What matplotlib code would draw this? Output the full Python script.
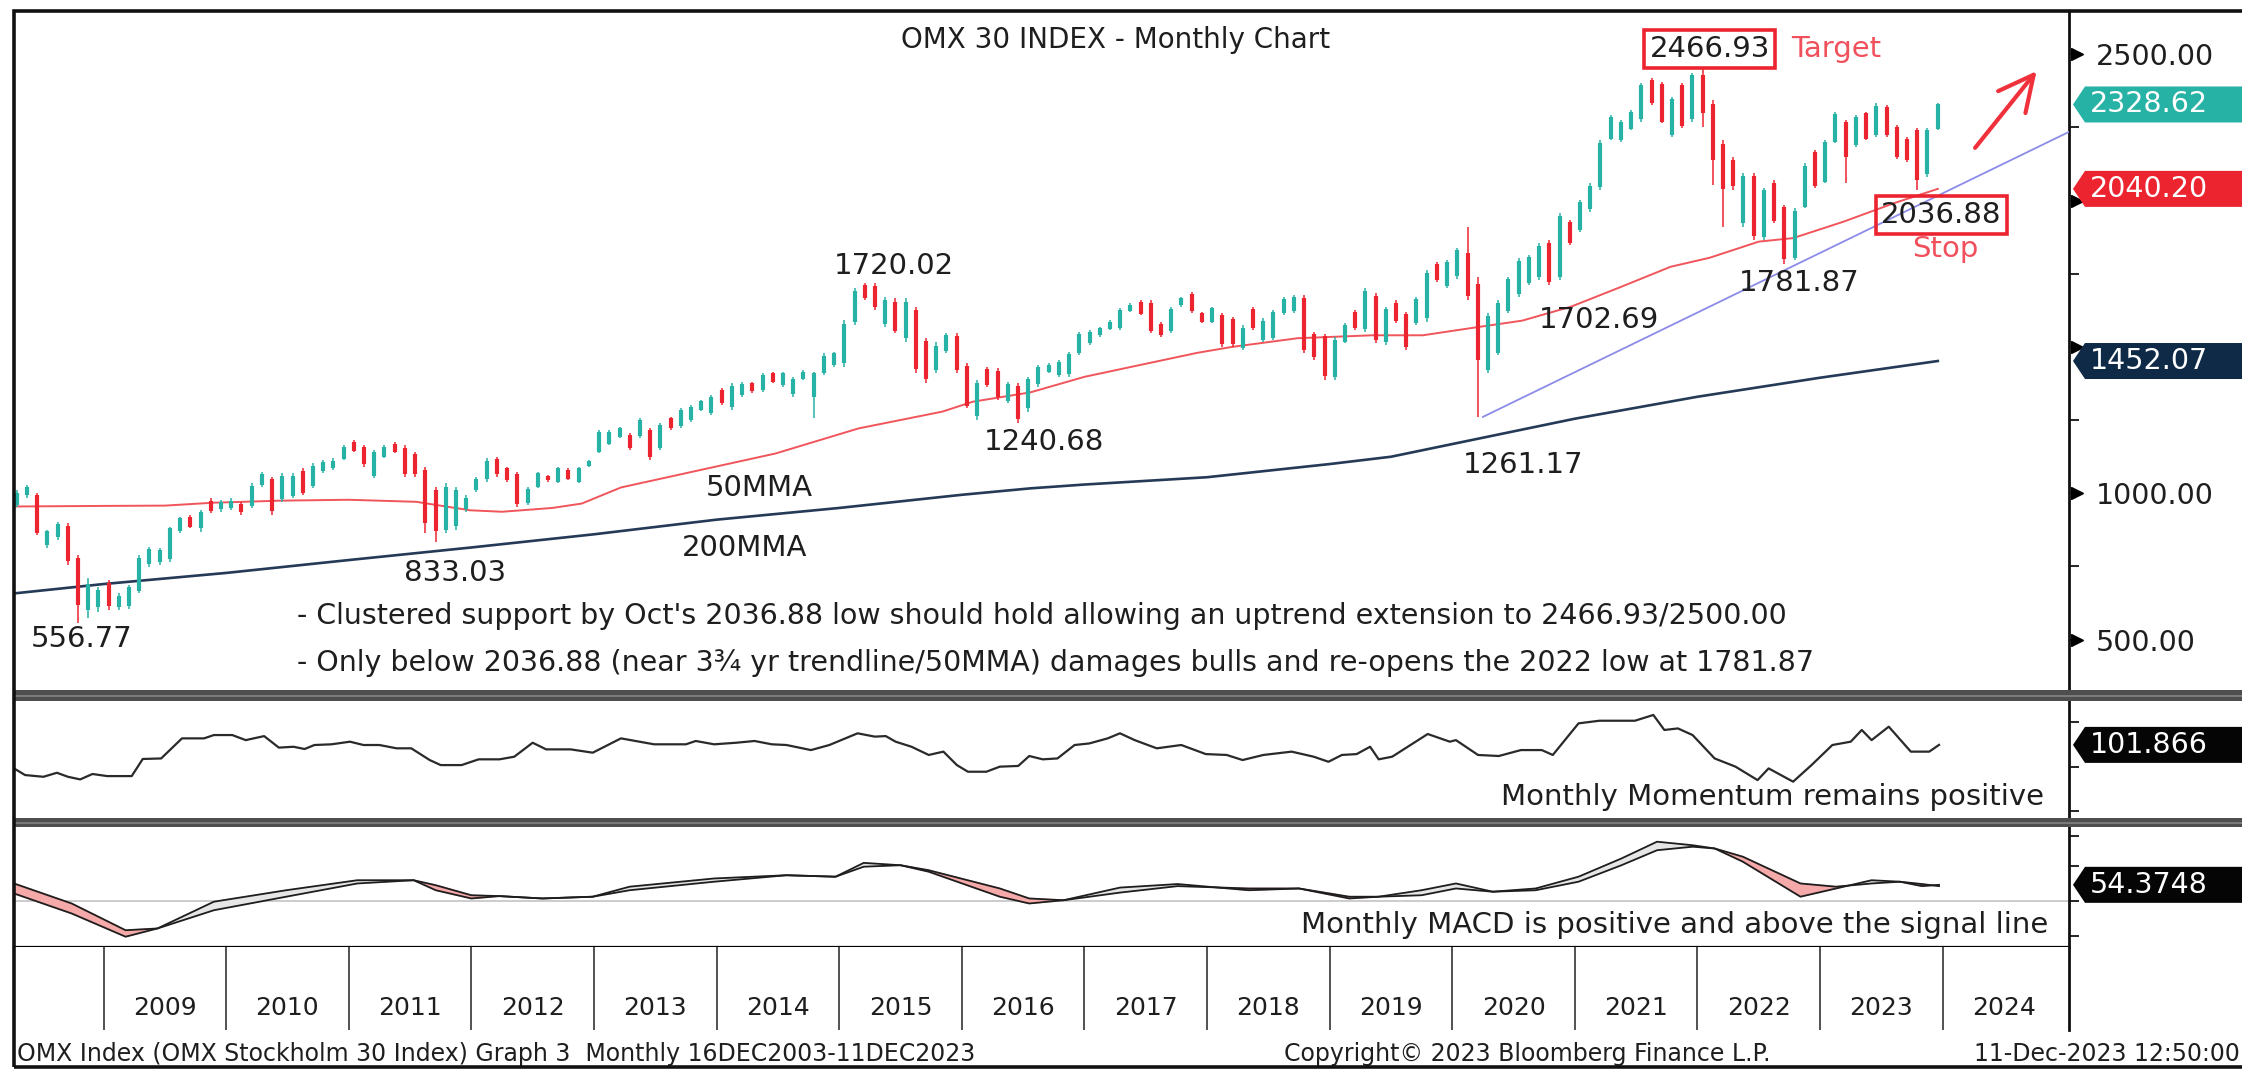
import numpy as np
import matplotlib
matplotlib.use("Agg")
import matplotlib.pyplot as plt
from matplotlib.patches import Rectangle, Polygon
from matplotlib.transforms import IdentityTransform

# ------------------------ monthly OHLC, Apr 2008 .. Dec 2023 ------------------------
opens = [
    960, 995, 995, 825, 850, 890, 780, 600, 610,                        # 2008 Apr-Dec
    695, 610, 615, 665, 760, 765, 775, 870, 920, 880, 975, 945,         # 2009
    950, 965, 955, 1030, 1050, 980, 990, 1075, 1025, 1075, 1085, 1118,  # 2010
    1175, 1158, 1060, 1125, 1170, 1155, 1135, 1080, 1010, 875, 890, 945,  # 2011
    1012, 1048, 1118, 1085, 1065, 968, 1022, 1058, 1040, 1080, 1040, 1094,  # 2012
    1142, 1170, 1192, 1198, 1195, 1215, 1155, 1256, 1230, 1252, 1285, 1275,  # 2013
    1352, 1295, 1336, 1376, 1353, 1410, 1370, 1338, 1392, 1330, 1410, 1440,  # 2014
    1445, 1585, 1712, 1710, 1580, 1655, 1530, 1628, 1520, 1420, 1485, 1538,  # 2015
    1435, 1265, 1425, 1418, 1315, 1368, 1290, 1372, 1415, 1405, 1408, 1480,  # 2016
    1512, 1540, 1562, 1565, 1624, 1655, 1652, 1580, 1555, 1642, 1682, 1615,  # 2017
    1586, 1608, 1595, 1498, 1630, 1525, 1532, 1615, 1622, 1668, 1545, 1538,  # 2018
    1398, 1518, 1620, 1560, 1675, 1518, 1652, 1612, 1582, 1600, 1785, 1710,  # 2019
    1742, 1820, 1715, 1420, 1480, 1622, 1680, 1720, 1738, 1855, 1740, 1928,  # 2020
    1900, 1970, 2045, 2212, 2208, 2246, 2278, 2412, 2398, 2226, 2395, 2278,  # 2021
    2430, 2330, 2195, 2140, 1925, 2085, 1875, 2060, 1978, 1805, 1980, 2165,  # 2022
    2065, 2202, 2268, 2190, 2298, 2224, 2320, 2252, 2212, 2240, 2090, 2245,  # 2023
]
highs = [
    1011, 1030, 1001, 875, 903, 898, 789, 710, 681,
    704, 658, 687, 789, 818, 812, 886, 920, 926, 943, 983, 977,
    983, 971, 1034, 1074, 1057, 1068, 1068, 1085, 1102, 1114, 1119, 1165,
    1182, 1165, 1148, 1165, 1176, 1165, 1142, 1091, 1023, 1034, 1023, 994,
    1057, 1119, 1125, 1091, 1074, 1023, 1074, 1062, 1091, 1085, 1091, 1114,
    1216, 1216, 1228, 1205, 1256, 1222, 1239, 1262, 1290, 1302, 1319, 1336,
    1359, 1376, 1381, 1381, 1410, 1416, 1416, 1398, 1421, 1416, 1478, 1484,
    1592, 1700, 1720.02, 1718, 1672, 1666, 1666, 1638, 1530, 1518, 1547, 1547,
    1444, 1387, 1433, 1427, 1381, 1376, 1398, 1438, 1444, 1455, 1484, 1552,
    1558, 1569, 1592, 1632, 1649, 1660, 1660, 1586, 1638, 1672, 1689, 1620,
    1638, 1615, 1603, 1575, 1638, 1598, 1626, 1672, 1677, 1677, 1552, 1546,
    1535, 1581, 1626, 1700, 1683, 1638, 1660, 1621, 1672, 1763, 1791, 1797,
    1837, 1911, 1740, 1615, 1660, 1740, 1803, 1814, 1854, 1865, 1957, 1934,
    2002, 2059, 2207, 2292, 2275, 2310, 2401, 2418, 2406, 2355, 2401, 2435,
    2466.93, 2344, 2207, 2150, 2093, 2093, 2042, 2070, 1985, 1974, 2127, 2173,
    2207, 2304, 2275, 2293, 2304, 2332, 2327, 2258, 2218, 2247, 2247, 2332,
]
lows = [
    953, 985, 858, 813, 840, 755, 556.77, 573, 595,
    601, 601, 605, 658, 749, 755, 766, 863, 880, 869, 932, 937,
    943, 926, 949, 1023, 926, 971, 983, 994, 1017, 1068, 1080, 1114,
    1140, 1091, 1051, 1119, 1137, 1057, 1057, 863, 833.03, 863, 875, 937,
    1006, 1040, 1057, 1040, 954, 960, 1017, 1040, 1034, 1045, 1034, 1091,
    1137, 1165, 1188, 1148, 1188, 1114, 1148, 1216, 1222, 1245, 1280, 1267,
    1302, 1285, 1330, 1342, 1347, 1376, 1364, 1330, 1387, 1256, 1404, 1433,
    1433, 1575, 1660, 1626, 1569, 1547, 1518, 1410, 1376, 1410, 1478, 1410,
    1290, 1250, 1364, 1319, 1307, 1240.68, 1279, 1364, 1410, 1398, 1398, 1472,
    1507, 1535, 1558, 1558, 1620, 1609, 1547, 1535, 1547, 1638, 1615, 1581,
    1581, 1501, 1501, 1490, 1558, 1518, 1524, 1609, 1615, 1478, 1455, 1387,
    1387, 1512, 1558, 1552, 1512, 1507, 1581, 1490, 1575, 1586, 1723, 1700,
    1734, 1660, 1261.17, 1410, 1472, 1615, 1672, 1712, 1729, 1712, 1729, 1848,
    1894, 1962, 2036, 2207, 2201, 2241, 2270, 2327, 2264, 2218, 2247, 2270,
    2253, 2053, 1911, 2036, 1911, 1865, 1865, 1922, 1781.87, 1797, 1974, 2042,
    2059, 2196, 2059, 2184, 2207, 2218, 2218, 2144, 2133, 2036.88, 2082, 2241,
]
closes = [
    1000, 1020, 865, 870, 895, 770, 620, 690, 670,
    615, 650, 680, 780, 810, 805, 880, 915, 885, 935, 940, 970,
    975, 935, 1025, 1065, 940, 1060, 1060, 1000, 1095, 1108, 1112, 1158,
    1145, 1100, 1140, 1158, 1142, 1065, 1065, 900, 870, 1020, 1010, 985,
    1050, 1110, 1065, 1045, 965, 1015, 1068, 1044, 1085, 1050, 1085, 1110,
    1208, 1210, 1222, 1155, 1250, 1125, 1232, 1222, 1284, 1296, 1314, 1330,
    1308, 1368, 1375, 1348, 1404, 1382, 1410, 1392, 1416, 1410, 1470, 1478,
    1580, 1690, 1668, 1635, 1662, 1555, 1655, 1425, 1390, 1505, 1540, 1420,
    1300, 1378, 1370, 1330, 1372, 1255, 1390, 1430, 1438, 1448, 1476, 1545,
    1552, 1564, 1587, 1625, 1645, 1614, 1556, 1540, 1630, 1668, 1622, 1586,
    1632, 1510, 1510, 1566, 1565, 1590, 1618, 1665, 1670, 1490, 1465, 1400,
    1525, 1575, 1565, 1690, 1525, 1630, 1588, 1500, 1664, 1752, 1728, 1790,
    1830, 1675, 1455, 1605, 1650, 1732, 1795, 1806, 1846, 1722, 1948, 1855,
    1994, 2050, 2198, 2285, 2268, 2304, 2394, 2332, 2270, 2348, 2254, 2428,
    2300, 2140, 2040, 2050, 2085, 1880, 2035, 1930, 1800, 1966, 2120, 2050,
    2200, 2296, 2150, 2286, 2212, 2325, 2225, 2150, 2140, 2070, 2240, 2328.62,
]

# moving averages (decimal years)
ma50_x = [2008.27, 2009.0, 2009.5, 2009.9, 2010.45, 2011.0, 2011.55, 2011.99, 2012.25, 2012.66,
          2012.9, 2013.22, 2013.98, 2014.48, 2015.16, 2015.84, 2016.09, 2016.56, 2017.0, 2017.92,
          2018.2, 2018.74, 2019.35, 2019.76, 2020.16, 2020.57, 2020.97, 2021.38, 2021.78, 2022.1,
          2022.5, 2022.78, 2023.19, 2023.6, 2023.96]
ma50_y = [955, 957, 958, 968, 975, 978, 971, 942, 937, 950,
          965, 1020, 1090, 1136, 1222, 1279, 1313, 1345, 1398, 1480,
          1500, 1530, 1540, 1540, 1565, 1590, 1638, 1706, 1774, 1805,
          1860, 1872, 1928, 1991, 2040.20]
ma200_x = [2008.27, 2009.0, 2010.0, 2011.0, 2012.0, 2013.0, 2014.0, 2015.0, 2016.0, 2016.56,
           2017.0, 2018.0, 2019.0, 2019.5, 2020.25, 2021.0, 2022.0, 2023.0, 2023.96]
ma200_y = [658, 690, 728, 772, 815, 860, 910, 950, 995, 1017,
           1030, 1055, 1100, 1125, 1190, 1255, 1330, 1395, 1452.07]
trend_x = [2020.25, 2025.03]
trend_y = [1261.17, 2235]

# monthly momentum
mom_x = [2008.27, 2008.36, 2008.51, 2008.62, 2008.71, 2008.81, 2008.91, 2009.03, 2009.23, 2009.32,
         2009.47, 2009.64, 2009.82, 2009.90, 2010.05, 2010.16, 2010.31, 2010.43, 2010.55, 2010.64,
         2010.72, 2010.86, 2011.01, 2011.12, 2011.25, 2011.39, 2011.51, 2011.66, 2011.75, 2011.92,
         2012.06, 2012.23, 2012.35, 2012.50, 2012.61, 2012.81, 2012.99, 2013.22, 2013.49, 2013.75,
         2013.83, 2013.98, 2014.16, 2014.31, 2014.45, 2014.57, 2014.77, 2014.92, 2015.15, 2015.29,
         2015.38, 2015.46, 2015.59, 2015.73, 2015.85, 2015.96, 2016.05, 2016.20, 2016.31, 2016.46,
         2016.55, 2016.66, 2016.78, 2016.92, 2017.04, 2017.19, 2017.29,
         2017.41, 2017.59, 2017.79, 2017.99, 2018.16, 2018.29, 2018.46, 2018.69, 2018.87, 2018.99,
         2019.10, 2019.22, 2019.33, 2019.40, 2019.51, 2019.80, 2019.98, 2020.03, 2020.21, 2020.38,
         2020.56, 2020.73, 2020.82, 2021.03, 2021.20, 2021.49, 2021.64, 2021.73, 2021.84, 2021.96,
         2022.14, 2022.31, 2022.49, 2022.58, 2022.78, 2022.93, 2023.10, 2023.25, 2023.34, 2023.42,
         2023.56, 2023.74, 2023.89, 2023.97]
mom_y = [88.4, 84.6, 83.6, 85.9, 83.6, 82.1, 85.2, 84.0, 84.0, 93.8,
         94.1, 105.6, 105.6, 107.5, 107.5, 104.6, 106.9, 100.3, 100.8, 99.5,
         101.8, 102.2, 103.7, 101.8, 101.8, 99.9, 99.9, 93.2, 90.3, 90.3,
         93.6, 93.6, 95.1, 103.1, 99.3, 99.3, 97.4, 105.6, 102.2, 102.2,
         104.1, 102.2, 103.1, 104.1, 102.2, 101.8, 98.9, 101.8, 108.5, 106.6,
         106.9, 103.7, 100.8, 96.1, 98.0, 90.3, 86.5, 86.5, 89.4, 89.8,
         95.5, 93.6, 94.1, 101.8, 102.7, 105.6, 108.5,
         104.6, 99.9, 101.8, 96.6, 96.1, 93.2, 96.1, 98.0, 95.1, 92.2,
         96.1, 96.6, 100.8, 93.6, 95.1, 108.1, 103.7, 104.6, 96.1, 95.5,
         98.9, 98.9, 96.1, 114.2, 115.7, 115.7, 119.0, 110.4, 111.3, 107.5,
         94.1, 89.4, 81.7, 88.4, 80.8, 90.3, 101.8, 103.7, 110.4, 104.6,
         112.3, 98.0, 98.0, 101.866]

# monthly MACD and signal
macd_x = [2008.27, 2008.74, 2009.18, 2009.44, 2009.90, 2010.49, 2011.07, 2011.53, 2011.71, 2012.0,
          2012.23, 2012.58, 2012.99, 2013.29, 2013.98, 2014.57, 2014.97, 2015.20, 2015.50, 2015.73,
          2016.31, 2016.55, 2016.83, 2017.29, 2017.76, 2018.34, 2018.75, 2019.16, 2019.40, 2019.75,
          2020.03, 2020.33, 2020.68, 2021.03, 2021.38, 2021.67, 2021.96, 2022.14, 2022.37, 2022.84,
          2023.13, 2023.42, 2023.65, 2023.83, 2023.97]
macd = [25, -43, -122, -94, -3, 36, 70, 70, 36, 8,
        16, 8, 14, 48, 76, 87, 82, 129, 121, 99,
        14, -9, 2, 45, 57, 36, 42, 8, 14, 36,
        59, 31, 42, 82, 144, 201, 189, 178, 133, 14,
        42, 70, 65, 50, 54.3748]
signal = [59, -9, -100, -94, -32, 14, 59, 70, 53, 19,
          16, 8, 14, 36, 65, 87, 82, 116, 121, 104,
          42, 8, 2, 28, 50, 42, 42, 14, 14, 19,
          42, 31, 36, 65, 121, 172, 184, 178, 150, 59,
          48, 59, 65, 57, 50]

years = list(range(2009, 2025))

# ------------------------ colours ------------------------
TEAL = '#27B2A6'
RED = '#EC2430'
MA50 = '#F0555C'
NAVY = '#243A57'
TXT = '#1E1E1E'

W, H, DPI = 2242, 1074, 100
fig = plt.figure(figsize=(W / DPI, H / DPI), dpi=DPI)
fig.patch.set_facecolor('white')


def rect(left, top, right, bottom):
    return [left / W, 1 - bottom / H, (right - left) / W, (bottom - top) / H]


ax = fig.add_axes(rect(14, 11, 2069, 690))
ax_mom = fig.add_axes(rect(14, 701, 2069, 818))
ax_macd = fig.add_axes(rect(14, 827, 2069, 947))
ax_yr = fig.add_axes(rect(14, 947, 2069, 1041))
XL = (2008.27, 2025.03)
for a in (ax, ax_mom, ax_macd, ax_yr):
    a.set_xlim(*XL)
    a.set_xticks([])
    for s in ('left', 'top', 'bottom'):
        a.spines[s].set_visible(False)
    a.spines['right'].set_linewidth(2)
    a.spines['right'].set_color('#111111')

# ------------------------ main panel ------------------------
ax.set_ylim(328, 2648)
o = np.array(opens)
c = np.array(closes)
hi = np.array(highs)
lo = np.array(lows)
months = 2008 + (np.arange(len(closes)) + 3) / 12 + 1 / 24
cols = np.where(c >= o, TEAL, RED)

ax.plot(ma200_x, ma200_y, color=NAVY, lw=1.9, zorder=2)
ax.plot(ma50_x, ma50_y, color=MA50, lw=1.4, zorder=2)
ax.vlines(months, lo, hi, colors=cols, lw=1.1, zorder=3)
ax.vlines(months, np.minimum(o, c), np.maximum(o, c), colors=cols, lw=3.0, zorder=3)
ax.plot(trend_x, trend_y, color='#8C8CE8', lw=1.3, zorder=4)

# 1500 / 2000 labels sit under the value tags, so only their ticks are kept
ax.yaxis.tick_right()
ax.set_yticks([500, 1000, 1500, 2000, 2500])
ax.set_yticklabels(['500.00', '1000.00', '', '', '2500.00'])
ax.set_yticks([750, 1250, 1750, 2250], minor=True)
ax.tick_params(axis='y', which='major', direction='out', length=9, width=1.3, pad=10,
               labelsize=20.5, labelcolor=TXT)
ax.tick_params(axis='y', which='minor', direction='out', length=7, width=1.2)
ax.plot([1.004] * 5, [500, 1000, 1500, 2000, 2500], transform=ax.get_yaxis_transform(),
        marker='>', ms=8, ls='none', color='k', clip_on=False)

tkw = dict(fontsize=21, color=TXT, ha='center', va='center', zorder=6)
ax.text(2017.25, 2549, 'OMX 30 INDEX - Monthly Chart', fontsize=20, color=TXT, ha='center', va='center')
ax.text(2015.45, 1777, '1720.02', **tkw)
ax.text(2016.67, 1175, '1240.68', **tkw)
ax.text(2020.58, 1097, '1261.17', **tkw)
ax.text(2021.20, 1592, '1702.69', **tkw)
ax.text(2022.83, 1718, '1781.87', **tkw)
ax.text(2011.87, 728, '833.03', **tkw)
ax.text(2008.82, 502, '556.77', **tkw)
ax.text(2014.35, 1018, '50MMA', **tkw)
ax.text(2014.23, 813, '200MMA', **tkw)
ax.text(2022.10, 2518, '2466.93', fontsize=21, color=TXT, ha='center', va='center', zorder=6,
        bbox=dict(boxstyle='square,pad=0.18', fc='white', ec=RED, lw=2.6))
ax.text(2022.76, 2518, 'Target', fontsize=21, color='#F0505C', ha='left', va='center')
ax.text(2023.99, 1951, '2036.88', fontsize=21, color=TXT, ha='center', va='center', zorder=6,
        bbox=dict(boxstyle='square,pad=0.18', fc='none', ec=RED, lw=2.6))
ax.text(2024.02, 1834, 'Stop', fontsize=21, color='#F0505C', ha='center', va='center')
ax.text(2010.58, 581, "- Clustered support by Oct's 2036.88 low should hold allowing an uptrend "
        "extension to 2466.93/2500.00", fontsize=20.5, color=TXT, ha='left', va='center')
ax.text(2010.58, 421, "- Only below 2036.88 (near 3\u00be yr trendline/50MMA) damages bulls and "
        "re-opens the 2022 low at 1781.87", fontsize=20.5, color=TXT, ha='left', va='center')
ax.annotate('', xy=(2024.78, 2450), xytext=(2024.25, 2173),
            arrowprops=dict(arrowstyle='->,head_length=0.9,head_width=0.45', color='#F0303A',
                            lw=3, mutation_scale=28))

# ------------------------ momentum panel ------------------------
ax_mom.set_ylim(60, 127)
ax_mom.plot(mom_x, mom_y, color='#2A2A2A', lw=1.6)
ax_mom.yaxis.tick_right()
ax_mom.set_yticks([64, 89, 115])
ax_mom.set_yticklabels([])
ax_mom.tick_params(axis='y', direction='out', length=7, width=1.2)
ax_mom.text(0.988, 0.18, 'Monthly Momentum remains positive', transform=ax_mom.transAxes,
            fontsize=21, color=TXT, ha='right', va='center')

# ------------------------ MACD panel ------------------------
ax_macd.set_ylim(-157, 251)
mx = np.array(macd_x)
m1 = np.array(macd, dtype=float)
m2 = np.array(signal, dtype=float)
ax_macd.axhline(0, color='#C4C4C4', lw=1.2, zorder=1)
ax_macd.fill_between(mx, m1, m2, where=m1 >= m2, interpolate=True, color='#E6E6E6', zorder=2)
ax_macd.fill_between(mx, m1, m2, where=m1 < m2, interpolate=True, color='#F6A9A9', zorder=2)
ax_macd.plot(mx, m2, color='#1E1E1E', lw=1.3, zorder=3)
ax_macd.plot(mx, m1, color='#1E1E1E', lw=1.3, zorder=3)
ax_macd.spines['bottom'].set_visible(True)
ax_macd.spines['bottom'].set_linewidth(1.6)
ax_macd.yaxis.tick_right()
ax_macd.set_yticks([-120, 0, 120, 220])
ax_macd.set_yticklabels([])
ax_macd.tick_params(axis='y', direction='out', length=7, width=1.2)
ax_macd.text(0.990, 0.18, 'Monthly MACD is positive and above the signal line',
             transform=ax_macd.transAxes, fontsize=21, color=TXT, ha='right', va='center')

# ------------------------ year strip ------------------------
ax_yr.set_ylim(0, 1)
ax_yr.set_yticks([])
ax_yr.spines['right'].set_bounds(0.12, 1)
ax_yr.vlines(years, 0.12, 1, color='#333333', lw=1.2)
for y in years:
    ax_yr.text(y + 0.5, 0.35, str(y), fontsize=18, color=TXT, ha='center', va='center')


# ------------------------ right-hand value tags ------------------------
def tag(axis, value, text, color):
    yd = axis.transData.transform((XL[1], value))[1]
    x0 = axis.transAxes.transform((1, 0))[0] + 4
    hh = 18
    pts = [(x0, yd), (x0 + 12, yd + hh), (W + 5, yd + hh), (W + 5, yd - hh), (x0 + 12, yd - hh)]
    fig.add_artist(Polygon(pts, closed=True, transform=IdentityTransform(), facecolor=color,
                           edgecolor='none', zorder=10))
    fig.text(2090 / W, yd / H, text, color='white', fontsize=20.5, ha='left', va='center', zorder=11)


tag(ax, closes[-1], '2328.62', TEAL)
tag(ax, ma50_y[-1], '2040.20', RED)
tag(ax, ma200_y[-1], '1452.07', '#0E2A47')
tag(ax_mom, mom_y[-1], '101.866', '#050505')
tag(ax_macd, macd[-1], '54.3748', '#050505')

# ------------------------ separators, frame, footer ------------------------
for top, bot in ((690, 701), (818, 827)):
    fig.add_artist(Rectangle((14, H - bot), W, bot - top, transform=IdentityTransform(),
                             facecolor='#4E4E4E', edgecolor='none', zorder=9))
    fig.add_artist(Rectangle((14, H - bot + (bot - top) / 2 - 1), W, 2, transform=IdentityTransform(),
                             facecolor='#7A7A7A', edgecolor='none', zorder=9))
fig.add_artist(Rectangle((14, H - 1067), W + 20, 1067 - 11, transform=IdentityTransform(),
                         fill=False, edgecolor='#111111', lw=2.6, zorder=12))

fig.text(17 / W, 1 - 1054 / H, 'OMX Index (OMX Stockholm 30 Index) Graph 3  Monthly 16DEC2003-11DEC2023',
         fontsize=17, color=TXT, ha='left', va='center')
fig.text(1527 / W, 1 - 1054 / H, 'Copyright\u00a9 2023 Bloomberg Finance L.P.',
         fontsize=17, color=TXT, ha='center', va='center')
fig.text(2240 / W, 1 - 1054 / H, '11-Dec-2023 12:50:00',
         fontsize=17, color=TXT, ha='right', va='center')

fig.savefig('out.png', dpi=DPI)
